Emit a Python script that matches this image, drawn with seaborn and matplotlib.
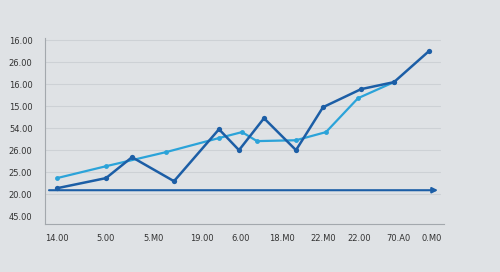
import matplotlib
matplotlib.use("Agg")
import matplotlib.pyplot as plt
import seaborn as sns
import pandas as pd
import numpy as np

# ---- data ----
dark_x = [1.2, 6.1, 8.7, 12.9, 17.4, 19.4, 21.9, 25.1, 27.8, 31.6, 34.9, 38.4]
dark_y = [1.27, 1.73, 2.68, 1.59, 3.95, 3.00, 4.45, 3.00, 4.95, 5.77, 6.09, 7.50]
light_x = [1.2, 6.1, 12.1, 17.4, 19.7, 21.2, 25.1, 28.1, 31.3, 34.9]
light_y = [1.73, 2.27, 2.91, 3.55, 3.82, 3.41, 3.45, 3.82, 5.36, 6.09]
baseline_y = 1.18
baseline_x = [0.4, 39.3]

x_ticks = [1.2, 6.1, 10.9, 15.7, 19.6, 23.7, 27.8, 31.4, 35.3, 38.7]
x_labels = ["14.00", "5.00", "5.M0", "19.00", "6.00", "18.M0", "22.M0", "22.00", "70.A0", "0.M0"]
x_minor = [3.7, 8.5, 13.3, 17.7, 21.7, 25.8, 29.7, 33.5, 37.0, 39.9]
y_ticks = [0, 1, 2, 3, 4, 5, 6, 7, 8]
y_labels = ["45.00", "20.00", "25.00", "26.00", "54.00", "15.00", "16.00", "26.00", "16.00"]

BG = "#dfe2e5"
DARK = "#1c5ea6"
LIGHT = "#2ba3d9"

sns.set_theme(style="white")
plt.rcParams["font.family"] = ["DejaVu Sans"]

fig = plt.figure(figsize=(5.0, 2.72), dpi=100)
fig.patch.set_facecolor(BG)
ax = fig.add_axes([0.09, 0.176, 0.798, 0.684])
ax.set_facecolor(BG)

df_dark = pd.DataFrame({"x": dark_x, "y": dark_y})
df_light = pd.DataFrame({"x": light_x, "y": light_y})

# grid lines
for yt in y_ticks[1:]:
    ax.axhline(yt, xmin=0, xmax=0.99, color="#cdd1d5", lw=0.8, zorder=0)

sns.lineplot(data=df_light, x="x", y="y", ax=ax, color=LIGHT, lw=1.6,
             marker="o", markersize=3.5, markeredgewidth=0, zorder=3)
sns.lineplot(data=df_dark, x="x", y="y", ax=ax, color=DARK, lw=1.8,
             marker="o", markersize=3.8, markeredgewidth=0, zorder=4)

ax.annotate("", xy=(baseline_x[1], baseline_y), xytext=(baseline_x[0], baseline_y),
            arrowprops=dict(arrowstyle="-|>", color=DARK, lw=1.5,
                            mutation_scale=8, shrinkA=0, shrinkB=0), zorder=5)

ax.set_xlim(0, 39.9)
ax.set_ylim(-0.36, 8.09)
ax.set_xticks(x_ticks)
ax.set_xticklabels(x_labels)
ax.set_xticks(x_minor, minor=True)
ax.set_yticks(y_ticks)
ax.set_yticklabels(y_labels)
ax.set_xlabel("")
ax.set_ylabel("")

for s in ["top", "right"]:
    ax.spines[s].set_visible(False)
for s in ["left", "bottom"]:
    ax.spines[s].set_color("#a3a8ad")
    ax.spines[s].set_linewidth(0.8)

ax.tick_params(axis="both", which="major", labelsize=6, colors="#a3a8ad",
               labelcolor="#333333", length=3, width=0.7)
ax.tick_params(axis="x", which="minor", length=2, width=0.6, colors="#a3a8ad")
ax.tick_params(axis="y", pad=6)
ax.tick_params(axis="x", pad=4)

fig.savefig("out.png", dpi=100, facecolor=BG)
